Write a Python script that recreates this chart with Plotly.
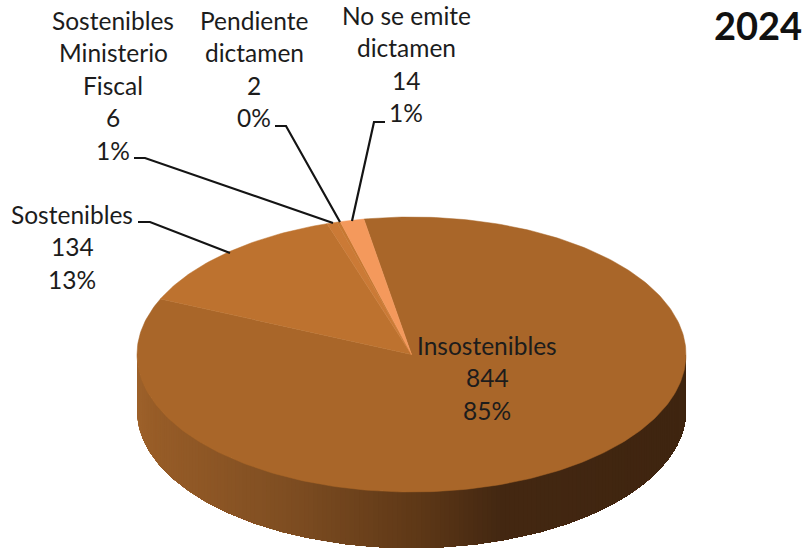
import numpy as np
import plotly.graph_objects as go

# --- data ---
categories = ["Insostenibles", "Sostenibles", "Sostenibles Ministerio Fiscal",
              "Pendiente dictamen", "No se emite dictamen"]
values = [844, 134, 6, 2, 14]
percent_labels = ["85%", "13%", "1%", "0%", "1%"]
title_text = "2024"
wrapped_names = [["Insostenibles"], ["Sostenibles"], ["Sostenibles", "Ministerio", "Fiscal"],
                 ["Pendiente", "dictamen"], ["No se emite", "dictamen"]]

# --- geometry and style ---
W, H = 807, 554
CX, CY, RX, RY, DEPTH = 411.5, 354.5, 274.5, 137.5, 56
START_DEG = -10.0
slice_colors = ["#A96629", "#BD722F", "#CB7A36", "#C77832", "#F4995C"]
wall_x = [137, 153, 287, 420, 500, 687]
wall_rgb = [(158, 98, 43), (152, 93, 40), (127, 78, 34), (94, 56, 23), (68, 40, 18), (63, 37, 16)]
label_x = [487, 72, 113, 254, 406]
label_y0 = [345, 214, 20, 20, 15]
LINE_STEP = 32.5
FONT = "Lato, Carlito, Calibri, sans-serif"
TEXT_COLOR = "#1c1c1c"
leaders = [
    None,
    [(138, 222), (150, 222), (230, 253)],
    [(134, 158), (145, 158), (333, 223)],
    [(275, 126), (286, 126), (340, 222)],
    [(385, 122), (374, 122), (352, 221)],
]


def ell(t, dy=0.0):
    return CX + RX * np.sin(t), CY - RY * np.cos(t) + dy


fig = go.Figure()

# outer wall, shaded by horizontal position; painted left to right,
# each band reaching the far end so that no seams show between bands
for deg in range(270, 90, -1):
    ts = np.radians(np.linspace(deg, 90, max(3, deg - 90 + 1)))
    x0, y0 = ell(ts)
    x1, y1 = ell(ts[::-1], DEPTH)
    xm = float(ell(np.radians(deg - 0.5))[0])
    rgb = [np.interp(xm, wall_x, [c[i] for c in wall_rgb]) for i in range(3)]
    fig.add_trace(go.Scatter(
        x=np.r_[x0, x1, x0[0]], y=np.r_[y0, y1, y0[0]], mode="lines", fill="toself",
        fillcolor="rgb(%d,%d,%d)" % tuple(rgb), line=dict(width=0),
        hoverinfo="skip", showlegend=False))

# top face, each slice's sweep comes from its value
total = sum(values)
ang = START_DEG
for name, v, col in zip(categories, values, slice_colors):
    sweep = 360.0 * v / total
    ts = np.radians(np.linspace(ang, ang + sweep, max(3, int(sweep) + 2)))
    x, y = ell(ts)
    fig.add_trace(go.Scatter(
        x=np.r_[CX, x, CX], y=np.r_[CY, y, CY], mode="lines", fill="toself",
        fillcolor=col, line=dict(color=col, width=0.5), name=name,
        hoverinfo="name", showlegend=False))
    ang += sweep

# labels
annotations = []
for names, v, pct, lx, ly in zip(wrapped_names, values, percent_labels, label_x, label_y0):
    for i, line in enumerate(names + [str(v), pct]):
        annotations.append(dict(x=lx, y=ly + i * LINE_STEP, text=line, showarrow=False,
                                xanchor="center", yanchor="middle",
                                font=dict(family=FONT, size=24.5, color=TEXT_COLOR)))
annotations.append(dict(x=758, y=25, text="<b>%s</b>" % title_text, showarrow=False,
                        xanchor="center", yanchor="middle",
                        font=dict(family=FONT, size=38, color="#111111")))

# leader lines
shapes = []
for pts in leaders:
    if pts:
        path = "M " + " L ".join("%g,%g" % p for p in pts)
        shapes.append(dict(type="path", path=path, xref="x", yref="y",
                           line=dict(color="#141414", width=2.2)))

fig.update_layout(
    width=W, height=H, margin=dict(l=0, r=0, t=0, b=0),
    paper_bgcolor="white", plot_bgcolor="white",
    xaxis=dict(range=[0, W], visible=False, fixedrange=True),
    yaxis=dict(range=[H, 0], visible=False, fixedrange=True),
    annotations=annotations, shapes=shapes,
)
fig.write_html("out.html", config={"displayModeBar": False},
               post_script="document.body.style.margin='0';document.body.style.overflow='hidden';")
